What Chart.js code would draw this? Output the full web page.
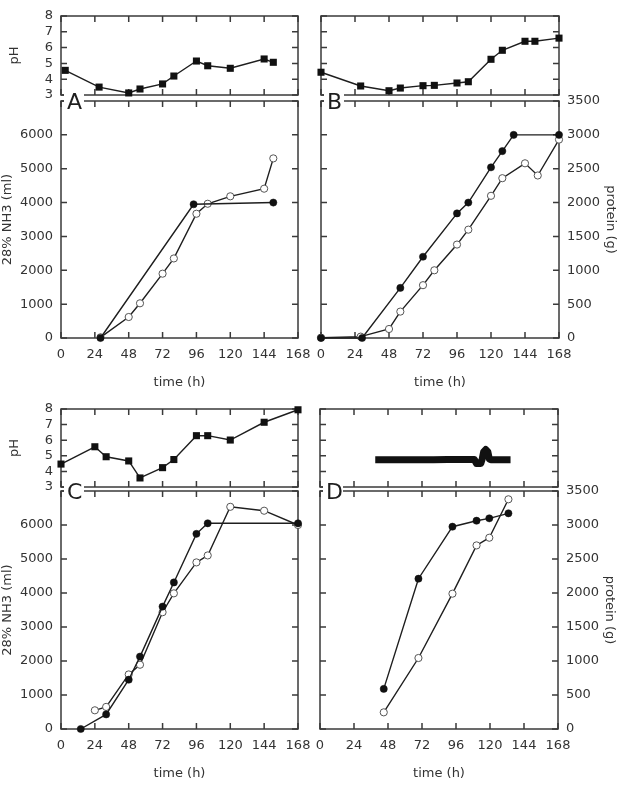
<!DOCTYPE html>
<html><head><meta charset="utf-8">
<script src="https://cdn.jsdelivr.net/npm/chart.js@4/dist/chart.umd.min.js"></script>
<style>
html,body{margin:0;padding:0;background:#fff;width:624px;height:792px;overflow:hidden}
canvas{position:absolute;left:0;top:0}
</style></head><body>
<script>
// ---- tick values ----
const timeTicks = [0, 24, 48, 72, 96, 120, 144, 168];
const phTicks = [3, 4, 5, 6, 7, 8];
const nh3Ticks = [0, 1000, 2000, 3000, 4000, 5000, 6000, 7000];
const nh3Labels = [0, 1000, 2000, 3000, 4000, 5000, 6000];
const proteinTicks = [0, 500, 1000, 1500, 2000, 2500, 3000, 3500];

// ---- Panel A ----
const phA_time  = [3, 27, 48, 56, 72, 80, 96, 104, 120, 144, 150.5];
const phA_value = [4.56, 3.5, 3.13, 3.38, 3.7, 4.2, 5.15, 4.85, 4.69, 5.28, 5.07];
const A_filled_time  = [28, 94, 150.5];
const A_filled_value = [0, 3950, 4000];
const A_open_time  = [28, 48, 56, 72, 80, 96, 104, 120, 144, 150.5];
const A_open_value = [20, 620, 1025, 1900, 2350, 3670, 3965, 4185, 4410, 5305];

// ---- Panel B ----
const phB_time  = [0, 28, 48, 56, 72, 80, 96, 104, 120, 128, 144, 151, 168];
const phB_value = [4.44, 3.57, 3.27, 3.44, 3.59, 3.61, 3.76, 3.84, 5.26, 5.83, 6.4, 6.4, 6.6];
const B_filled_time  = [0, 29, 56, 72, 96, 104, 120, 128, 136, 168];
const B_filled_value = [0, 0, 740, 1200, 1840, 2000, 2520, 2760, 3000, 3000];
const B_open_time  = [0, 28, 48, 56, 72, 80, 96, 104, 120, 128, 144, 153, 168];
const B_open_value = [5, 20, 133, 390, 780, 1000, 1380, 1600, 2100, 2360, 2580, 2400, 2930];

// ---- Panel C ----
const phC_time  = [0, 24, 32, 48, 56, 72, 80, 96, 104, 120, 144, 168];
const phC_value = [4.47, 5.58, 4.94, 4.67, 3.58, 4.24, 4.76, 6.29, 6.29, 6.01, 7.15, 7.95];
const C_filled_time  = [14, 32, 48, 56, 72, 80, 96, 104, 168];
const C_filled_value = [0, 430, 1450, 2130, 3600, 4310, 5740, 6050, 6050];
const C_open_time  = [24, 32, 48, 56, 72, 80, 96, 104, 120, 144, 168];
const C_open_value = [550, 650, 1605, 1890, 3435, 3990, 4900, 5105, 6535, 6420, 6000];

// ---- Panel D ----
const phD_time  = [39, 50, 60, 70, 80, 90, 100, 109, 110.5, 113.5, 114.5, 115.5, 117, 118.5, 119.5, 120.5, 125, 130, 134.5];
const phD_value = [4.75, 4.75, 4.75, 4.75, 4.75, 4.76, 4.76, 4.76, 4.5, 4.5, 4.8, 5.25, 5.4, 5.25, 4.8, 4.75, 4.75, 4.75, 4.75];
const D_filled_time  = [45, 69.5, 93.5, 110.5, 119.5, 133];
const D_filled_value = [590, 2210, 2975, 3063, 3098, 3172];
const D_open_time  = [45, 69.5, 93.5, 110.5, 119.5, 133];
const D_open_value = [245, 1044, 1990, 2700, 2813, 3378];

// ---- helpers ----
const FONT = 'DejaVu Sans';
const INK = '#333';
const LINE = '#1e1e1e';
Chart.defaults.font.family = FONT;
Chart.defaults.font.size = 13;
Chart.defaults.color = INK;

const pts = (xs, ys) => xs.map((x, i) => ({x: x, y: ys[i]}));
const plain = v => String(v);

const framePlugin = {
  id: 'frame',
  beforeDatasetsDraw(chart, args, o) {
    const ctx = chart.ctx, a = chart.chartArea;
    const xs = chart.scales.x, ys = chart.scales[o.yId];
    ctx.save();
    ctx.strokeStyle = '#3a3a3a';
    ctx.lineWidth = 1.5;
    ctx.strokeRect(a.left, a.top, a.right - a.left, a.bottom - a.top);
    ctx.beginPath();
    timeTicks.forEach(v => {
      const p = xs.getPixelForValue(v);
      ctx.moveTo(p, a.top); ctx.lineTo(p, a.top + 6);
      ctx.moveTo(p, a.bottom); ctx.lineTo(p, a.bottom - 6);
    });
    o.yTicks.forEach(v => {
      const p = ys.getPixelForValue(v);
      ctx.moveTo(a.left, p); ctx.lineTo(a.left + 6, p);
      ctx.moveTo(a.right, p); ctx.lineTo(a.right - 6, p);
    });
    ctx.stroke();
    ctx.restore();
  },
  afterDraw(chart, args, o) {
    if (!o.letter) return;
    const ctx = chart.ctx, a = chart.chartArea;
    ctx.save();
    ctx.fillStyle = '#fff';
    ctx.fillRect(a.left + 3, a.top - 9, 20, 20);
    ctx.fillStyle = '#1e1e1e';
    ctx.font = '22px "' + FONT + '"';
    ctx.textBaseline = 'alphabetic';
    ctx.textAlign = 'left';
    ctx.fillText(o.letter, a.left + 6, a.top + 8);
    ctx.restore();
  }
};

function fixedTicks(arr) {
  return s => { s.ticks = arr.map(v => ({value: v})); };
}

function makeChart(rect, cfg) {
  const c = document.createElement('canvas');
  c.width = 624; c.height = 792;
  c.style.width = '624px'; c.style.height = '792px';
  document.body.appendChild(c);
  const LW = cfg.leftW || 0, RW = cfg.rightW || 0, BH = cfg.bottomH || 0;
  const scales = {
    x: {
      type: 'linear', position: 'bottom', min: 0, max: 168,
      display: !!cfg.showX,
      afterBuildTicks: fixedTicks(timeTicks),
      afterFit: s => { s.height = BH; },
      grid: {display: false, drawTicks: false},
      border: {display: false},
      ticks: {padding: 9, autoSkip: false, maxRotation: 0, color: INK, callback: plain},
      title: {display: !!cfg.showX, text: 'time (h)', padding: 0, color: INK}
    },
    y: {
      type: 'linear', position: 'left', min: cfg.yMin, max: cfg.yMax,
      display: !!cfg.leftLabels,
      afterBuildTicks: fixedTicks(cfg.leftLabels || cfg.yTicks),
      afterFit: s => { s.width = LW; },
      grid: {display: false, drawTicks: false},
      border: {display: false},
      ticks: {padding: 8, autoSkip: false, color: INK, callback: plain},
      title: {display: !!cfg.leftTitle, text: cfg.leftTitle || '', padding: 0, color: INK}
    }
  };
  if (cfg.rightLabels) {
    scales.y2 = {
      type: 'linear', position: 'right', min: cfg.y2Min, max: cfg.y2Max,
      display: true,
      afterBuildTicks: fixedTicks(cfg.rightLabels),
      afterFit: s => { s.width = RW; },
      grid: {display: false, drawTicks: false},
      border: {display: false},
      ticks: {padding: 8, autoSkip: false, color: INK, callback: plain},
      title: {display: !!cfg.rightTitle, text: cfg.rightTitle || '', padding: 0, color: INK}
    };
  }
  const pad = {
    left: rect.l - (cfg.leftLabels ? LW : 0),
    right: 624 - rect.r - (cfg.rightLabels ? RW : 0),
    top: rect.t,
    bottom: 792 - rect.b - (cfg.showX ? BH : 0)
  };
  return new Chart(c, {
    type: 'line',
    data: {datasets: cfg.datasets},
    options: {
      responsive: false, animation: false, devicePixelRatio: 1,
      layout: {padding: pad},
      scales: scales,
      plugins: {
        legend: {display: false}, tooltip: {enabled: false},
        frame: {yId: cfg.frameY || 'y', yTicks: cfg.yTicks, letter: cfg.letter}
      },
      elements: {line: {tension: 0}}
    },
    plugins: [framePlugin]
  });
}

function phSet(xs, ys) {
  return [{
    data: pts(xs, ys), borderColor: LINE, borderWidth: 1.4,
    pointStyle: 'rect', pointRadius: 5, pointBackgroundColor: '#111',
    pointBorderColor: '#111', pointBorderWidth: 0, clip: false
  }];
}
function mainSets(fx, fy, ox, oy, axis) {
  return [
    {data: pts(fx, fy), yAxisID: axis, borderColor: LINE, borderWidth: 1.4,
     pointStyle: 'circle', pointRadius: 3.6, pointBackgroundColor: '#111',
     pointBorderColor: '#111', pointBorderWidth: 0.5, clip: false},
    {data: pts(ox, oy), yAxisID: axis, borderColor: LINE, borderWidth: 1.4,
     pointStyle: 'circle', pointRadius: 3.6, pointBackgroundColor: '#fff',
     pointBorderColor: '#555', pointBorderWidth: 1, clip: false}
  ];
}

// ---- pH panels ----
const phLeft = {yMin: 3, yMax: 8, yTicks: phTicks, leftLabels: phTicks, leftW: 54, leftTitle: 'pH'};
const phRight = {yMin: 3, yMax: 8, yTicks: phTicks};

makeChart({l: 61, t: 16, r: 298, b: 95}, Object.assign({}, phLeft, {datasets: phSet(phA_time, phA_value)}));
makeChart({l: 321, t: 16, r: 559, b: 95}, Object.assign({}, phRight, {datasets: phSet(phB_time, phB_value)}));
makeChart({l: 61, t: 409, r: 298, b: 487}, Object.assign({}, phLeft, {datasets: phSet(phC_time, phC_value)}));
makeChart({l: 320, t: 409, r: 558, b: 487}, Object.assign({}, phRight, {datasets: [{
  data: pts(phD_time, phD_value), borderColor: '#111', borderWidth: 7,
  borderCapStyle: 'butt', borderJoinStyle: 'round', pointRadius: 0, clip: false
}]}));

// ---- main panels ----
const mainLeft = {yMin: 0, yMax: 7000, yTicks: nh3Ticks, leftLabels: nh3Labels, leftW: 61,
  leftTitle: '28% NH3 (ml)', showX: true, bottomH: 52};
const mainRight = {yMin: 0, yMax: 7000, yTicks: nh3Ticks, y2Min: 0, y2Max: 3500,
  rightLabels: proteinTicks, rightW: 59, rightTitle: 'protein (g)', showX: true, bottomH: 52};

makeChart({l: 61, t: 101, r: 298, b: 338}, Object.assign({}, mainLeft, {letter: 'A',
  datasets: mainSets(A_filled_time, A_filled_value, A_open_time, A_open_value, 'y')}));
makeChart({l: 321, t: 101, r: 559, b: 338}, Object.assign({}, mainRight, {letter: 'B',
  datasets: mainSets(B_filled_time, B_filled_value, B_open_time, B_open_value, 'y2')}));
makeChart({l: 61, t: 491, r: 298, b: 729}, Object.assign({}, mainLeft, {letter: 'C',
  datasets: mainSets(C_filled_time, C_filled_value, C_open_time, C_open_value, 'y')}));
makeChart({l: 320, t: 491, r: 558, b: 729}, Object.assign({}, mainRight, {letter: 'D',
  datasets: mainSets(D_filled_time, D_filled_value, D_open_time, D_open_value, 'y2')}));
</script>
</body></html>
